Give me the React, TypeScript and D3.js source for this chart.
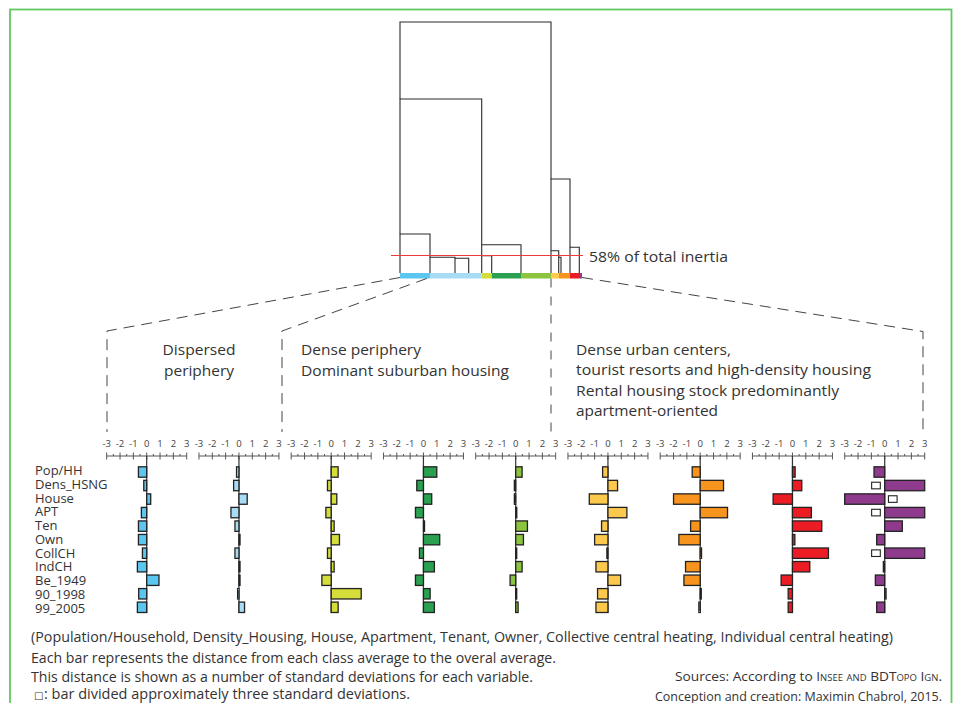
import React from "react";
import * as d3 from "d3";

const W = 954;
const H = 703;

// ---- Dendrogram data (strip units / merge heights) ----
const classColors = ["#5bc6ef", "#a8dcf4", "#d5dd3b", "#29a150", "#8cc43f", "#fdc94d", "#f7941e", "#ec1c24", "#8e3b8e"];
const classSizes = [30, 51.7, 10, 29.3, 30, 8, 11, 10, 2];
const mergeLeft = [0, 0, 151, 0, 30, 55, 81.7, 81.7, 151, 158.7, 170];
const mergeRight = [151, 81.7, 170, 30, 55, 68.7, 121, 91.7, 158.7, 161, 179.3];
const mergeHeight = [251, 174, 94, 39, 15.7, 14.7, 28.3, 17.3, 22.3, 15.7, 25.7];
const mergeLeftChild = [174, 39, 22.3, 0, 0, 0, 17.3, 0, 0, 0, 0];
const mergeRightChild = [94, 28.3, 25.7, 15.7, 14.7, 0, 0, 0, 15.7, 0, 0];
const cutHeight = 17.5;
const cutLabel = "58% of total inertia";

// ---- Profiles ----
const variables = ["Pop/HH", "Dens_HSNG", "House", "APT", "Ten", "Own", "CollCH", "IndCH", "Be_1949", "90_1998", "99_2005"];
const ticks = [-3, -2, -1, 0, 1, 2, 3];
const class1 = [-0.62, -0.22, 0.3, -0.4, -0.62, -0.62, -0.32, -0.7, 0.92, -0.6, -0.7];
const class2 = [-0.18, -0.4, 0.62, -0.6, -0.3, 0.08, -0.3, 0.08, 0.08, -0.1, 0.42];
const class3 = [0.52, -0.28, 0.42, -0.4, 0.22, 0.62, -0.28, 0.22, -0.7, 2.25, 0.52];
const class4 = [1.0, -0.5, 0.62, -0.6, 0.08, 1.22, -0.3, 0.82, -0.6, 0.5, 0.82];
const class5 = [0.48, -0.1, -0.1, 0.08, 0.88, 0.58, 0.06, 0.48, -0.42, 0.06, 0.18];
const class6 = [-0.4, 0.72, -1.4, 1.42, -0.48, -1.0, -0.08, -0.9, 0.95, -0.78, -0.9];
const class7 = [-0.6, 1.75, -2.0, 2.05, -0.72, -1.6, 0.1, -1.1, -1.22, 0.08, -0.1];
const class8 = [0.2, 0.7, -1.45, 1.42, 2.2, 0.18, 2.7, 1.3, -0.85, -0.32, -0.32];
const class9 = [-0.8, 3, -3, 3, 1.32, -0.6, 3, -0.1, -0.7, 0.1, -0.6];
const class9Capped = [false, true, true, true, false, false, true, false, false, false, false];
const classValues = [class1, class2, class3, class4, class5, class6, class7, class8, class9];
const classCapped = [null, null, null, null, null, null, null, null, class9Capped];

// ---- Texts ----
const groupLeft = ["Dispersed", "periphery"];
const groupMid = ["Dense periphery", "Dominant suburban housing"];
const groupRight = ["Dense urban centers,", "tourist resorts and high-density housing", "Rental housing stock predominantly", "apartment-oriented"];
const notes = [
  "(Population/Household, Density_Housing, House, Apartment, Tenant, Owner, Collective central heating, Individual central heating)",
  "Each bar represents the distance from each class average to the overal average.",
  "This distance is shown as a number of standard deviations for each variable.",
  " : bar divided approximately three standard deviations.",
];
const squareGlyph = "\u25A1";

const FONT = "'Open Sans', 'Noto Sans', 'DejaVu Sans', sans-serif";
const TXT = "#333";

export default function App() {
  const total = d3.sum(classSizes);
  const x = d3.scaleLinear().domain([0, total]).range([400, 582]);
  const y = d3.scaleLinear().domain([0, 251]).range([273, 22]);
  const cum = d3.cumsum(classSizes);
  const starts = classSizes.map((s, i) => cum[i] - s);

  const dendroPath = mergeHeight.map((h, i) =>
    `M${x(mergeLeft[i])},${y(mergeLeftChild[i])}V${y(h)}H${x(mergeRight[i])}V${y(mergeRightChild[i])}`
  );

  const rowCenter = d3.scalePoint<string>().domain(variables).range([472, 607.3]);
  const labelBase = d3.scalePoint<string>().domain(variables).range([475, 612.7]);
  const barH = 10.4;
  const axisY = 456;

  const stripTop = 273;
  const stripBot = 278.5;
  const dash = { stroke: "#444", strokeWidth: 1, fill: "none" };

  return (
    <svg width={W} height={H} style={{ position: "absolute", left: 0, top: 0, background: "#fff" }} fontFamily={FONT}>
      <rect x={10} y={9.5} width={941.5} height={720} fill="none" stroke="#62c862" strokeWidth={1.8} />

      {/* dendrogram */}
      {dendroPath.map((d, i) => (
        <path key={i} d={d} fill="none" stroke="#2a2a2a" strokeWidth={1.1} />
      ))}
      {classSizes.map((s, i) => (
        <rect key={i} x={x(starts[i])} y={stripTop} width={x(cum[i]) - x(starts[i])} height={stripBot - stripTop} fill={classColors[i]} />
      ))}
      <line x1={x(0) - 9} x2={x(total) + 1} y1={y(cutHeight)} y2={y(cutHeight)} stroke="#f03a3a" strokeWidth={1.2} />
      <text x={589} y={261.5} fontSize={15} fill={TXT} textLength={139} lengthAdjust="spacingAndGlyphs">{cutLabel}</text>

      {/* funnel dashed lines */}
      <path d={`M${x(0)},${stripBot - 1}L107,331V432`} {...dash} strokeDasharray="11 7" />
      <path d={`M${x(26.7)},${stripBot}L282,331V432`} {...dash} strokeDasharray="11 7" />
      <path d={`M${x(151)},${stripBot}V432`} {...dash} strokeDasharray="9 9" />
      <path d={`M${x(total)},${stripBot - 1}L923,331.5V432`} {...dash} strokeDasharray="11 7" />

      {/* group texts */}
      <text x={199} y={355} fontSize={15} fill={TXT} textAnchor="middle" textLength={73} lengthAdjust="spacingAndGlyphs">{groupLeft[0]}</text>
      <text x={199} y={375.5} fontSize={15} fill={TXT} textAnchor="middle" textLength={70} lengthAdjust="spacingAndGlyphs">{groupLeft[1]}</text>
      <text x={301} y={355} fontSize={15} fill={TXT} textLength={120} lengthAdjust="spacingAndGlyphs">{groupMid[0]}</text>
      <text x={301} y={375.5} fontSize={15} fill={TXT} textLength={208} lengthAdjust="spacingAndGlyphs">{groupMid[1]}</text>
      {groupRight.map((t, i) => (
        <text key={i} x={576} y={354.5 + i * 20.5} fontSize={15} fill={TXT} textLength={[155, 295, 263, 142][i]} lengthAdjust="spacingAndGlyphs">{t}</text>
      ))}

      {/* variable labels */}
      {variables.map((v) => (
        <text key={v} x={35} y={labelBase(v)} fontSize={13} fill={TXT}>{v}</text>
      ))}

      {/* panels */}
      {classValues.map((vals, p) => {
        const z = 146.7 + 92.25 * p;
        const sx = d3.scaleLinear().domain([-3, 3]).range([z - 40, z + 40]);
        const halfTicks = d3.range(-2.5, 3, 1);
        const capped = classCapped[p];
        return (
          <g key={p}>
            {ticks.map((t) => (
              <text key={t} x={sx(t)} y={446.5} fontSize={9.5} fill="#444" textAnchor="middle">{t}</text>
            ))}
            <line x1={sx(-3)} x2={sx(3)} y1={axisY} y2={axisY} stroke="#555" strokeWidth={1} />
            {ticks.map((t) => (
              <line key={t} x1={sx(t)} x2={sx(t)} y1={axisY - 3.5} y2={axisY + 3.5} stroke="#555" strokeWidth={1} />
            ))}
            {halfTicks.map((t) => (
              <line key={t} x1={sx(t)} x2={sx(t)} y1={axisY - 2} y2={axisY} stroke="#555" strokeWidth={1} />
            ))}
            <line x1={sx(0)} x2={sx(0)} y1={axisY} y2={613} stroke="#333" strokeWidth={1.2} />
            {vals.map((v, i) => {
              const cy = rowCenter(variables[i])!;
              const x0 = sx(Math.min(0, v));
              const w = Math.max(1, Math.abs(sx(v) - sx(0)));
              return (
                <g key={i}>
                  <rect x={x0} y={cy - barH / 2} width={w} height={barH} fill={classColors[p]} stroke="#222" strokeWidth={1.3} />
                  {capped && capped[i] ? (
                    <rect
                      x={v > 0 ? sx(-0.98) : sx(0.28)}
                      y={cy - 3.3}
                      width={sx(-0.33) - sx(-0.98)}
                      height={6.6}
                      fill="#fff"
                      stroke="#222"
                      strokeWidth={1.1}
                    />
                  ) : null}
                </g>
              );
            })}
          </g>
        );
      })}

      {/* notes */}
      <text x={31} y={642} fontSize={14} fill={TXT} textLength={862} lengthAdjust="spacingAndGlyphs">{notes[0]}</text>
      <text x={31} y={662.5} fontSize={14} fill={TXT} textLength={525} lengthAdjust="spacingAndGlyphs">{notes[1]}</text>
      <text x={31} y={681.5} fontSize={14} fill={TXT} textLength={502} lengthAdjust="spacingAndGlyphs">{notes[2]}</text>
      <text x={34} y={699} fontSize={10} fill={TXT}>{squareGlyph}</text>
      <text x={44} y={699} fontSize={14} fill={TXT} textLength={366} lengthAdjust="spacingAndGlyphs">{notes[3]}</text>
      <text x={942} y={680.5} fontSize={13} fill={TXT} textAnchor="end" textLength={267} lengthAdjust="spacingAndGlyphs">
        Sources: According to <tspan style={{ fontVariant: "small-caps" }}>Insee and BDTopo Ign</tspan>.
      </text>
      <text x={942} y={700.5} fontSize={13} fill={TXT} textAnchor="end" textLength={287} lengthAdjust="spacingAndGlyphs">Conception and creation: Maximin Chabrol, 2015.</text>
    </svg>
  );
}
